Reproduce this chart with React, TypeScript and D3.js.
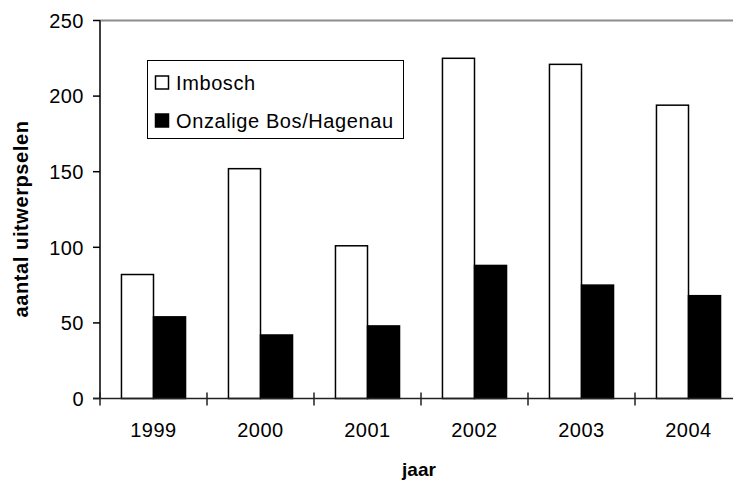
import React, { useRef, useEffect } from "react";
import * as d3 from "d3";

const years = ["1999", "2000", "2001", "2002", "2003", "2004"];
const imbosch = [82, 152, 101, 225, 221, 194];
const onzalige = [54, 42, 48, 88, 75, 68];
const yTicks = [0, 50, 100, 150, 200, 250];
const seriesNames = ["Imbosch", "Onzalige Bos/Hagenau"];

const W = 733;
const H = 481;

const App: React.FC = () => {
  const ref = useRef<SVGSVGElement>(null);

  useEffect(() => {
    if (!ref.current) return;
    const svg = d3.select(ref.current);
    svg.selectAll("*").remove();
    const font = "'Liberation Sans', Arial, sans-serif";

    const left = 100;
    const right = 742;
    const top = 20.5;
    const bottom = 398.5;

    const x = d3.scaleBand().domain(years).range([left, right]).padding(0);
    const inner = d3
      .scaleBand()
      .domain(["a", "b"])
      .range([0, x.bandwidth()])
      .paddingInner(0)
      .paddingOuter(0.67);
    const y = d3.scaleLinear().domain([0, 250]).range([bottom, top]);

    // top border
    svg
      .append("line")
      .attr("x1", left)
      .attr("x2", W)
      .attr("y1", top)
      .attr("y2", top)
      .attr("stroke", "#8c8c8c")
      .attr("stroke-width", 2);

    // bars
    const g = svg.append("g");
    years.forEach((yr, i) => {
      const vals = [imbosch[i], onzalige[i]];
      vals.forEach((v, j) => {
        g.append("rect")
          .attr("x", (x(yr) as number) + (inner(j === 0 ? "a" : "b") as number))
          .attr("y", y(v))
          .attr("width", inner.bandwidth())
          .attr("height", y(0) - y(v))
          .attr("fill", j === 0 ? "#fff" : "#000")
          .attr("stroke", "#000")
          .attr("stroke-width", 1.5);
      });
    });

    // y axis
    svg
      .append("line")
      .attr("x1", left)
      .attr("x2", left)
      .attr("y1", top)
      .attr("y2", bottom)
      .attr("stroke", "#000")
      .attr("stroke-width", 1.5);
    yTicks.forEach((t) => {
      svg
        .append("line")
        .attr("x1", left - 7)
        .attr("x2", left)
        .attr("y1", y(t))
        .attr("y2", y(t))
        .attr("stroke", "#000")
        .attr("stroke-width", 1.5);
      svg
        .append("text")
        .attr("x", 84)
        .attr("y", y(t))
        .attr("dy", "0.36em")
        .attr("text-anchor", "end")
        .attr("font-family", font)
        .attr("font-size", 20)
        .attr("letter-spacing", 0.5)
        .text(t);
    });

    // x axis
    svg
      .append("line")
      .attr("x1", left - 7)
      .attr("x2", W)
      .attr("y1", bottom)
      .attr("y2", bottom)
      .attr("stroke", "#222")
      .attr("stroke-width", 1.5);
    const edges = years.map((yr) => x(yr) as number).concat([right]);
    edges.forEach((e) => {
      svg
        .append("line")
        .attr("x1", e)
        .attr("x2", e)
        .attr("y1", bottom - 6)
        .attr("y2", bottom + 7)
        .attr("stroke", "#222")
        .attr("stroke-width", 1.5);
    });
    years.forEach((yr) => {
      svg
        .append("text")
        .attr("x", (x(yr) as number) + x.bandwidth() / 2)
        .attr("y", 437)
        .attr("text-anchor", "middle")
        .attr("font-family", font)
        .attr("font-size", 20)
        .attr("letter-spacing", 0.5)
        .text(yr);
    });

    // axis titles
    svg
      .append("text")
      .attr("x", 419)
      .attr("y", 476)
      .attr("text-anchor", "middle")
      .attr("font-family", font)
      .attr("font-weight", "bold")
      .attr("font-size", 19)
      .text("jaar");
    svg
      .append("text")
      .attr("transform", `translate(28,219) rotate(-90)`)
      .attr("text-anchor", "middle")
      .attr("font-family", font)
      .attr("font-weight", "bold")
      .attr("font-size", 20)
      .attr("letter-spacing", 0.6)
      .text("aantal uitwerpselen");

    // legend
    const lg = svg.append("g");
    lg.append("rect")
      .attr("x", 147.5)
      .attr("y", 60.5)
      .attr("width", 256)
      .attr("height", 78)
      .attr("fill", "#fff")
      .attr("stroke", "#000")
      .attr("stroke-width", 1);
    seriesNames.forEach((name, i) => {
      const cy = 82.5 + i * 38;
      lg.append("rect")
        .attr("x", 155.5)
        .attr("y", cy - 6.5)
        .attr("width", 13)
        .attr("height", 13)
        .attr("fill", i === 0 ? "#fff" : "#000")
        .attr("stroke", "#000")
        .attr("stroke-width", 1.5);
      lg.append("text")
        .attr("x", 176)
        .attr("y", cy)
        .attr("dy", "0.36em")
        .attr("font-family", font)
        .attr("font-size", 20)
        .attr("letter-spacing", 0.6)
        .text(name);
    });
  }, []);

  return (
    <svg
      ref={ref}
      width={W}
      height={H}
      style={{ position: "absolute", left: 0, top: 0, background: "#fff" }}
    />
  );
};

export default App;
